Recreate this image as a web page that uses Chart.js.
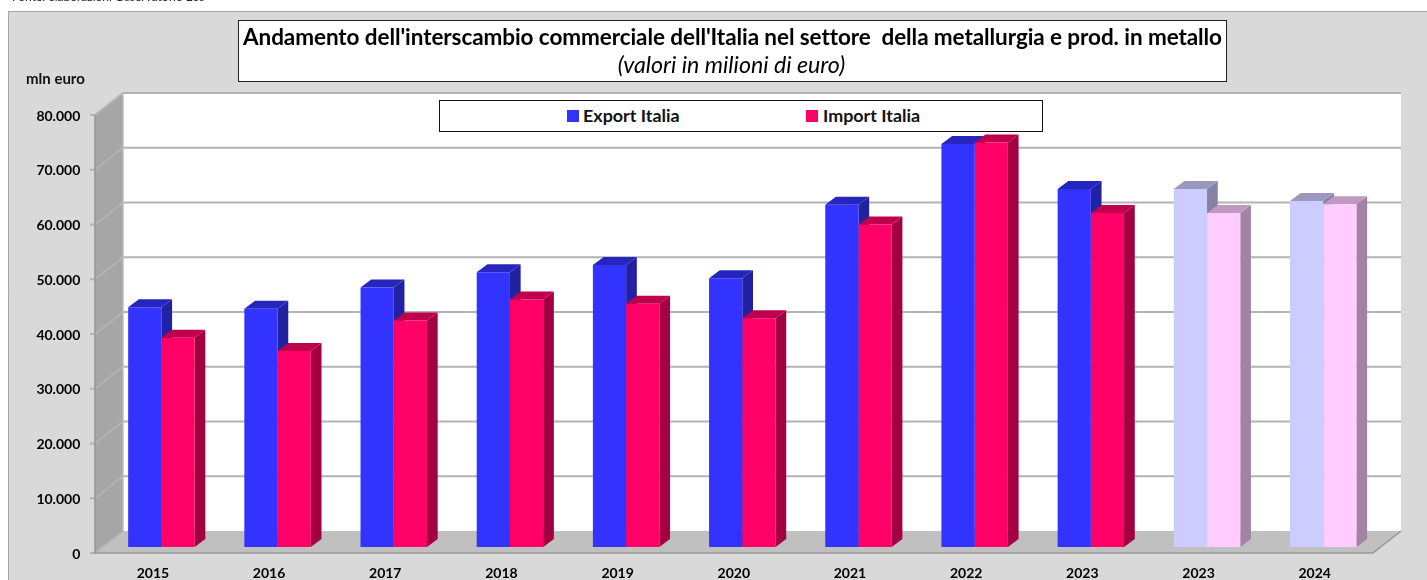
<!DOCTYPE html>
<html lang="it">
<head>
<meta charset="utf-8">
<title>Interscambio metallurgia</title>
<script src="https://cdn.jsdelivr.net/npm/chart.js@4"></script>
<style>
html,body{margin:0;padding:0;background:#fff;overflow:hidden;}
#wrap{position:relative;width:1427px;height:580px;overflow:hidden;font-family:Lato,sans-serif;color:#000;}
canvas{position:absolute;left:0;top:0;}
.ov{position:absolute;white-space:pre;}
#src{left:12px;top:-10px;font-size:12px;line-height:14px;color:#222;}
#box{left:238px;top:20px;width:987px;height:60px;background:#fff;border:1px solid #222;}
#t1{left:238px;width:989px;top:23px;text-align:center;font-weight:700;font-size:22.5px;line-height:27px;letter-spacing:-0.08px;}
#t2{left:237px;width:989px;top:51px;text-align:center;font-style:italic;font-size:23.2px;line-height:26px;}
#unit{left:26px;top:70px;font-weight:700;font-size:15px;line-height:16px;color:#111;}
#lg{left:439px;top:100px;width:602px;height:30px;background:#fff;border:1px solid #111;}
.sw{position:absolute;top:110px;width:12px;height:12px;}
.lt{top:104px;font-weight:700;font-size:17.9px;line-height:22px;color:#111;}
</style>
</head>
<body>
<div id="wrap">
<canvas id="c" width="1427" height="580"></canvas>
<div class="ov" id="src">Fonte: elaborazioni Osservatorio Eos</div>
<div class="ov" id="box"></div>
<div class="ov" id="t1"></div>
<div class="ov" id="t2"></div>
<div class="ov" id="unit"></div>
<div class="ov" id="lg"></div>
<div class="sw" id="s0" style="left:567px"></div>
<div class="ov lt" id="l0" style="left:583px"></div>
<div class="sw" id="s1" style="left:806px"></div>
<div class="ov lt" id="l1" style="left:823px"></div>
</div>
<script>
const categories = ['2015','2016','2017','2018','2019','2020','2021','2022','2023','2023','2024'];
const exportItalia = [43800,43500,47400,50200,51500,49100,62500,73600,65400,65400,63200];
const importItalia = [38200,35800,41350,45200,44450,41800,58900,73900,61000,61000,62600];
const seriesNames = ['Export Italia','Import Italia'];
const titleLine = "Andamento dell'interscambio commerciale dell'Italia nel settore  della metallurgia e prod. in metallo";
const subtitleLine = '(valori in milioni di euro)';
const unitLabel = 'mln euro';
const yTicks = [0,10000,20000,30000,40000,50000,60000,70000,80000];

// styles
const solid = [[0x33,0x33,0xFF],[0xFF,0x00,0x66]];
const pale = [[0xCC,0xCC,0xFF],[0xFF,0xCC,0xFF]];
const firstPaleIndex = 9;
const rgb = (c,f=1)=>`rgb(${Math.round(c[0]*f)},${Math.round(c[1]*f)},${Math.round(c[2]*f)})`;
const baseColor = (ds,i)=> i>=firstPaleIndex ? pale[ds] : solid[ds];

document.getElementById('t1').textContent = titleLine;
document.getElementById('t2').textContent = subtitleLine;
document.getElementById('unit').textContent = unitLabel;
[0,1].forEach(i=>{
  document.getElementById('l'+i).textContent = seriesNames[i];
  document.getElementById('s'+i).style.background = rgb(solid[i]);
});

const frontShift = {x:8.3, y:6};     // bar plane -> front edge of the floor
const backShift = {x:19.7, y:16};    // bar plane -> back wall
const barDepth = {x:10.7, y:8};

const scene = {
  id:'scene',
  beforeDraw(chart){
    const {ctx,chartArea:a,scales:{y}} = chart;
    const W = chart.width, H = chart.height;
    ctx.save();
    // panel
    ctx.fillStyle='#D9D9D9';
    ctx.fillRect(8,11,W-8,H-11);
    ctx.strokeStyle='#A6A6A6'; ctx.lineWidth=1;
    ctx.beginPath(); ctx.moveTo(8.5,H); ctx.lineTo(8.5,11.5); ctx.lineTo(W,11.5); ctx.stroke();

    const fl=a.left-frontShift.x, fr=a.right-frontShift.x;
    const bl=a.left+backShift.x, br=a.right+backShift.x;
    const fy=v=>y.getPixelForValue(v)+frontShift.y;
    const by=v=>y.getPixelForValue(v)-backShift.y;
    const top=yTicks[yTicks.length-1];
    // back wall
    ctx.fillStyle='#FFFFFF';
    ctx.fillRect(bl,by(top),br-bl,by(0)-by(top));
    // left wall
    ctx.fillStyle='#A6A6A6';
    ctx.beginPath();ctx.moveTo(fl,fy(0));ctx.lineTo(bl,by(0));ctx.lineTo(bl,by(top));ctx.lineTo(fl,fy(top));ctx.closePath();ctx.fill();
    // floor
    ctx.fillStyle='#C0C0C0';
    ctx.beginPath();ctx.moveTo(fl,fy(0));ctx.lineTo(fr,fy(0));ctx.lineTo(br,by(0));ctx.lineTo(bl,by(0));ctx.closePath();ctx.fill();
    // gridlines + ticks
    ctx.strokeStyle='#B4B4B4'; ctx.lineWidth=1.8;
    yTicks.forEach(v=>{
      ctx.beginPath();
      if(v>0){ctx.moveTo(br,by(v));ctx.lineTo(bl,by(v));}
      else {ctx.moveTo(bl,by(v));}
      ctx.lineTo(fl,fy(v));ctx.lineTo(fl-5,fy(v));
      ctx.stroke();
    });
    // wall edges
    ctx.strokeStyle='#969696'; ctx.lineWidth=1.5;
    ctx.beginPath();ctx.moveTo(fl,fy(top));ctx.lineTo(fl,fy(0));ctx.lineTo(fr,fy(0));ctx.lineTo(br,by(0));ctx.stroke();
    ctx.strokeStyle='#BDBDBD';
    ctx.beginPath();ctx.moveTo(bl,by(0));ctx.lineTo(bl,by(top));ctx.stroke();
    ctx.restore();
  },
  beforeDatasetsDraw(chart){
    const {ctx} = chart;
    const dx=barDepth.x, dy=barDepth.y;
    const m0=chart.getDatasetMeta(0).data, m1=chart.getDatasetMeta(1).data;
    ctx.save();
    categories.forEach((_,i)=>{
      [m0[i],m1[i]].forEach((b,ds)=>{
        const c=baseColor(ds,i), l=b.x-b.width/2, r=b.x+b.width/2;
        ctx.fillStyle=rgb(c,0.64);
        ctx.beginPath();ctx.moveTo(r,b.y);ctx.lineTo(r+dx,b.y-dy);ctx.lineTo(r+dx,b.base-dy);ctx.lineTo(r,b.base);ctx.closePath();ctx.fill();
        ctx.fillStyle=rgb(c,0.75);
        ctx.beginPath();ctx.moveTo(l,b.y);ctx.lineTo(l+dx,b.y-dy);ctx.lineTo(r+dx,b.y-dy);ctx.lineTo(r,b.y);ctx.closePath();ctx.fill();
      });
    });
    ctx.restore();
  }
};

const tickFont = {family:'Lato, sans-serif', weight:'bold', size:14};
new Chart(document.getElementById('c'),{
  type:'bar',
  data:{
    labels:categories,
    datasets:[
      {label:seriesNames[0],data:exportItalia,backgroundColor:categories.map((_,i)=>rgb(baseColor(0,i)))},
      {label:seriesNames[1],data:importItalia,backgroundColor:categories.map((_,i)=>rgb(baseColor(1,i)))}
    ]
  },
  options:{
    responsive:false,
    animation:false,
    devicePixelRatio:1,
    layout:{padding:{top:109,right:45.7,left:0,bottom:0}},
    datasets:{bar:{barPercentage:1,categoryPercentage:0.572}},
    plugins:{legend:{display:false},title:{display:false},tooltip:{enabled:false}},
    scales:{
      x:{
        grid:{display:false,drawTicks:false},
        border:{display:false},
        afterFit(s){s.height=33;},
        ticks:{font:tickFont,color:'#000',padding:18,labelOffset:-8.5,autoSkip:false,maxRotation:0}
      },
      y:{
        min:0,max:80000,
        grid:{display:false,drawTicks:false},
        border:{display:false},
        afterFit(s){s.width=103.3;},
        afterBuildTicks(s){s.ticks=yTicks.map(v=>({value:v}));},
        ticks:{font:tickFont,color:'#000',padding:23,labelOffset:7,
          callback:v=>String(v).replace(/\B(?=(\d{3})+$)/g,'.')}
      }
    }
  },
  plugins:[scene]
});
</script>
</body>
</html>
